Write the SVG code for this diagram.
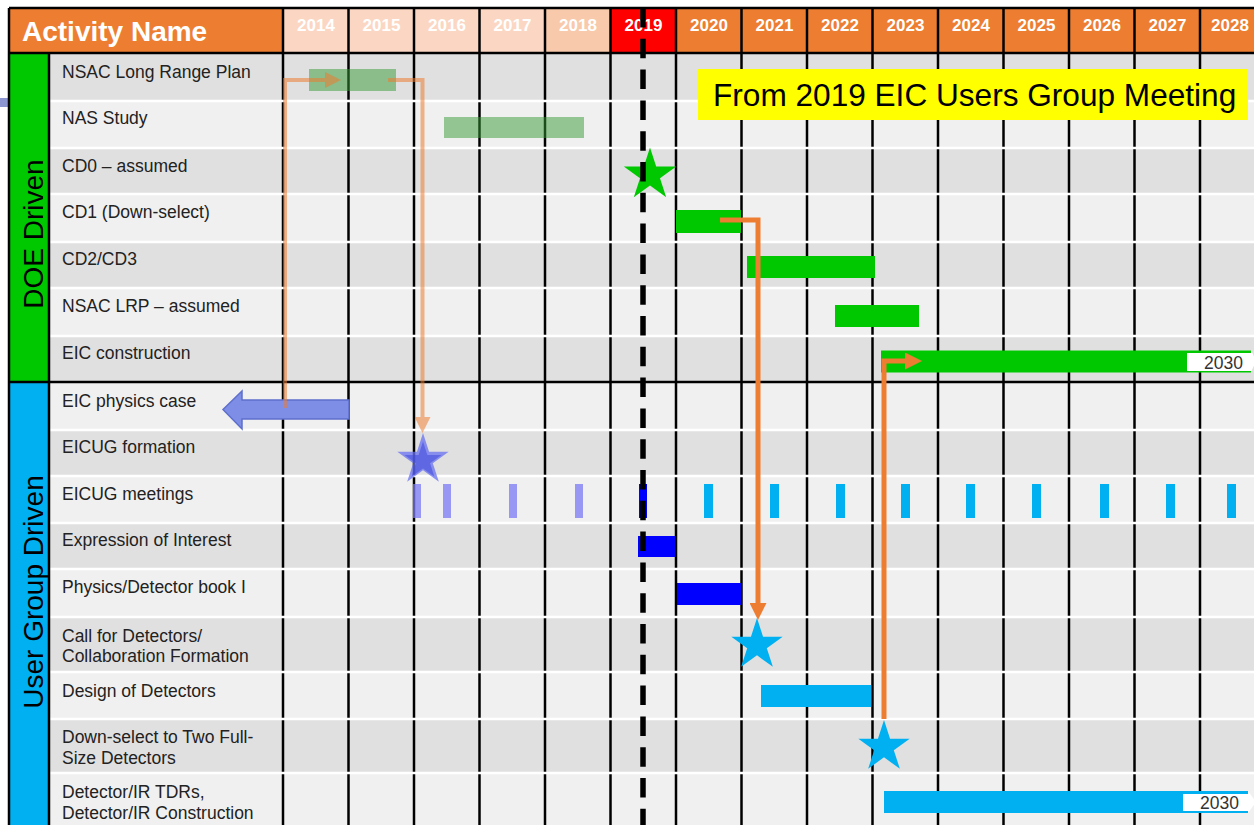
<svg xmlns="http://www.w3.org/2000/svg" width="1254" height="825" viewBox="0 0 1254 825">
<defs>
<style>
.lbl{font-family:"Liberation Sans",Arial,sans-serif;font-size:17.5px;fill:#222}
.yr{font-family:"Liberation Sans",Arial,sans-serif;font-size:17px;font-weight:bold;fill:#fff;text-anchor:middle}
.side{font-family:"Liberation Sans",Arial,sans-serif;font-size:28px;fill:#000;text-anchor:middle}
.dk{fill:#E0E0E0}
.lt{fill:#F0F0F0}
.vl{stroke:#000;stroke-width:2.5}
.sep{stroke:#fff;stroke-width:2.5}
.g{fill:#00C800}
.c{fill:#00B0F0}
.b{fill:#0000FF}
.pale{fill:#7B7BF5;opacity:0.75}
.nb{fill:#339933;opacity:0.5}
.yrtxt{font-family:"Liberation Sans",Arial,sans-serif;font-size:17.5px;fill:#333;text-anchor:end}
</style>
<path id="star" d="M0,-27 L6.06,-8.34 L25.68,-8.34 L9.81,3.19 L15.87,21.84 L0,10.31 L-15.87,21.84 L-9.81,3.19 L-25.68,-8.34 L-6.06,-8.34 Z"/>
<marker id="ahL" viewBox="0 0 16 16" markerWidth="16" markerHeight="16" markerUnits="userSpaceOnUse" refX="0" refY="8" orient="auto"><path d="M0,0 L16,8 L0,16 Z" fill="#ED7D31"/></marker>
<marker id="ahS" viewBox="0 0 17 17" markerWidth="17" markerHeight="17" markerUnits="userSpaceOnUse" refX="0" refY="8.5" orient="auto"><path d="M0,0 L17,8.5 L0,17 Z" fill="#ED7D31"/></marker>
</defs>
<rect x="0" y="0" width="1254" height="825" fill="#fff"/>
<rect x="0" y="98" width="9" height="9" fill="#8C96D0"/>

<g id="grid">
<rect x="49" y="53" width="1205" height="48" class="dk"/>
<rect x="49" y="101" width="1205" height="47" class="lt"/>
<rect x="49" y="148" width="1205" height="46" class="dk"/>
<rect x="49" y="194" width="1205" height="48" class="lt"/>
<rect x="49" y="242" width="1205" height="46" class="dk"/>
<rect x="49" y="288" width="1205" height="48" class="lt"/>
<rect x="49" y="336" width="1205" height="46" class="dk"/>
<rect x="49" y="382" width="1205" height="48" class="lt"/>
<rect x="49" y="430" width="1205" height="46" class="dk"/>
<rect x="49" y="476" width="1205" height="47" class="lt"/>
<rect x="49" y="523" width="1205" height="46" class="dk"/>
<rect x="49" y="569" width="1205" height="48" class="lt"/>
<rect x="49" y="617" width="1205" height="55" class="dk"/>
<rect x="49" y="672" width="1205" height="47" class="lt"/>
<rect x="49" y="719" width="1205" height="54" class="dk"/>
<rect x="49" y="773" width="1205" height="52" class="lt"/>
<g class="vl">
<line x1="283" y1="53" x2="283" y2="825"/>
<line x1="348.5" y1="53" x2="348.5" y2="825"/>
<line x1="414" y1="53" x2="414" y2="825"/>
<line x1="479.5" y1="53" x2="479.5" y2="825"/>
<line x1="545" y1="53" x2="545" y2="825"/>
<line x1="610.5" y1="53" x2="610.5" y2="825"/>
<line x1="676" y1="53" x2="676" y2="825"/>
<line x1="741.5" y1="53" x2="741.5" y2="825"/>
<line x1="807" y1="53" x2="807" y2="825"/>
<line x1="872.5" y1="53" x2="872.5" y2="825"/>
<line x1="938" y1="53" x2="938" y2="825"/>
<line x1="1003.5" y1="53" x2="1003.5" y2="825"/>
<line x1="1069" y1="53" x2="1069" y2="825"/>
<line x1="1134.5" y1="53" x2="1134.5" y2="825"/>
<line x1="1200" y1="53" x2="1200" y2="825"/>
</g>
<g class="sep">
<line x1="49" y1="101" x2="1254" y2="101"/>
<line x1="49" y1="148" x2="1254" y2="148"/>
<line x1="49" y1="194" x2="1254" y2="194"/>
<line x1="49" y1="242" x2="1254" y2="242"/>
<line x1="49" y1="288" x2="1254" y2="288"/>
<line x1="49" y1="336" x2="1254" y2="336"/>
<line x1="49" y1="430" x2="1254" y2="430"/>
<line x1="49" y1="476" x2="1254" y2="476"/>
<line x1="49" y1="523" x2="1254" y2="523"/>
<line x1="49" y1="569" x2="1254" y2="569"/>
<line x1="49" y1="617" x2="1254" y2="617"/>
<line x1="49" y1="672" x2="1254" y2="672"/>
<line x1="49" y1="719" x2="1254" y2="719"/>
<line x1="49" y1="773" x2="1254" y2="773"/>
</g>
</g>

<g id="sidebar-doe">
<rect x="9" y="53" width="40" height="329" class="g"/>
<text class="side" transform="translate(43,234) rotate(-90)">DOE Driven</text>
</g>
<g id="sidebar-user">
<rect x="9" y="382" width="40" height="443" class="c"/>
<text class="side" transform="translate(43,592) rotate(-90)">User Group Driven</text>
</g>
<g id="frame" class="vl">
<line x1="9" y1="53" x2="9" y2="825"/>
<line x1="49" y1="53" x2="49" y2="825"/>
<line x1="9" y1="382" x2="1254" y2="382"/>
</g>

<g id="header">
<rect x="9" y="8" width="274" height="45" fill="#ED7D31"/>
<rect x="283" y="8" width="262" height="45" fill="#FBD7C3"/>
<rect x="545" y="8" width="65.5" height="45" fill="#F8C9AA"/>
<rect x="610.5" y="8" width="65.5" height="45" fill="#FF0000"/>
<rect x="676" y="8" width="578" height="45" fill="#ED7D31"/>
<g class="vl">
<line x1="9" y1="8" x2="1254" y2="8"/>
<line x1="8" y1="53" x2="1254" y2="53"/>
<line x1="9" y1="8" x2="9" y2="53"/>
<line x1="283" y1="8" x2="283" y2="53"/>
<line x1="348.5" y1="8" x2="348.5" y2="53"/>
<line x1="414" y1="8" x2="414" y2="53"/>
<line x1="479.5" y1="8" x2="479.5" y2="53"/>
<line x1="545" y1="8" x2="545" y2="53"/>
<line x1="610.5" y1="8" x2="610.5" y2="53"/>
<line x1="676" y1="8" x2="676" y2="53"/>
<line x1="741.5" y1="8" x2="741.5" y2="53"/>
<line x1="807" y1="8" x2="807" y2="53"/>
<line x1="872.5" y1="8" x2="872.5" y2="53"/>
<line x1="938" y1="8" x2="938" y2="53"/>
<line x1="1003.5" y1="8" x2="1003.5" y2="53"/>
<line x1="1069" y1="8" x2="1069" y2="53"/>
<line x1="1134.5" y1="8" x2="1134.5" y2="53"/>
<line x1="1200" y1="8" x2="1200" y2="53"/>
</g>
<text x="22" y="41" font-family="Liberation Sans, Arial, sans-serif" font-size="28" font-weight="bold" fill="#fff">Activity Name</text>
<text class="yr" x="316" y="31">2014</text>
<text class="yr" x="381.5" y="31">2015</text>
<text class="yr" x="447" y="31">2016</text>
<text class="yr" x="512.5" y="31">2017</text>
<text class="yr" x="578" y="31">2018</text>
<text class="yr" x="643.5" y="31">2019</text>
<text class="yr" x="709" y="31">2020</text>
<text class="yr" x="774.5" y="31">2021</text>
<text class="yr" x="840" y="31">2022</text>
<text class="yr" x="905.5" y="31">2023</text>
<text class="yr" x="971" y="31">2024</text>
<text class="yr" x="1036.5" y="31">2025</text>
<text class="yr" x="1102" y="31">2026</text>
<text class="yr" x="1167.5" y="31">2027</text>
<text class="yr" x="1230" y="31">2028</text>
</g>

<g id="row-nsac-lrp">
<text class="lbl" x="62" y="78">NSAC Long Range Plan</text>
<rect class="nb" x="309" y="69" width="87" height="22"/>
</g>
<g id="row-nas">
<text class="lbl" x="62" y="124">NAS Study</text>
<rect class="nb" x="444" y="117" width="140" height="21"/>
</g>
<g id="row-cd0">
<text class="lbl" x="62" y="172">CD0 – assumed</text>
<use href="#star" transform="translate(650,175) scale(1.02)" fill="#00C800"/>
</g>
<g id="row-cd1">
<text class="lbl" x="62" y="218">CD1 (Down-select)</text>
<rect class="g" x="676" y="210" width="65" height="23"/>
</g>
<g id="row-cd2">
<text class="lbl" x="62" y="265">CD2/CD3</text>
<rect class="g" x="747" y="256" width="128" height="22"/>
</g>
<g id="row-nsac-assumed">
<text class="lbl" x="62" y="312">NSAC LRP – assumed</text>
<rect class="g" x="835" y="305" width="84" height="22"/>
</g>
<g id="row-eic-construction">
<text class="lbl" x="62" y="359">EIC construction</text>
<rect class="g" x="881" y="350.5" width="370" height="22"/>
<rect x="1187" y="353" width="64" height="18" fill="#fff"/>
<polygon points="1251,350 1256,361 1251,372" fill="#fff"/>
<text class="yrtxt" x="1243" y="369">2030</text>
</g>
<g id="row-physics-case">
<text class="lbl" x="62" y="407">EIC physics case</text>
<polygon points="349,400 242,400 242,391 223,409.5 242,429 242,419 349,419" fill="#7E8EE6" stroke="#5E6FCC" stroke-width="1.5"/>
</g>
<g id="row-eicug-formation">
<text class="lbl" x="62" y="453">EICUG formation</text>
<use href="#star" transform="translate(423,460)" fill="#6A72F0" opacity="0.75"/>
<use href="#star" transform="translate(423,461) scale(0.72)" fill="#4048DC" opacity="0.55"/>
</g>
<g id="row-eicug-meetings">
<text class="lbl" x="62" y="500">EICUG meetings</text>
<rect class="pale" x="413" y="484" width="8" height="34"/>
<rect class="pale" x="443" y="484" width="8" height="34"/>
<rect class="pale" x="509" y="484" width="8" height="34"/>
<rect class="pale" x="575" y="484" width="8" height="34"/>
<rect class="b" x="639" y="484" width="8" height="34"/>
<rect class="c" x="704" y="484" width="9" height="34"/>
<rect class="c" x="770" y="484" width="9" height="34"/>
<rect class="c" x="836" y="484" width="9" height="34"/>
<rect class="c" x="901" y="484" width="9" height="34"/>
<rect class="c" x="966" y="484" width="9" height="34"/>
<rect class="c" x="1032" y="484" width="9" height="34"/>
<rect class="c" x="1100" y="484" width="9" height="34"/>
<rect class="c" x="1166" y="484" width="9" height="34"/>
<rect class="c" x="1227" y="484" width="9" height="34"/>
</g>
<g id="row-eoi">
<text class="lbl" x="62" y="546">Expression of Interest</text>
<rect class="b" x="638" y="536" width="37" height="21"/>
</g>
<g id="row-book">
<text class="lbl" x="62" y="593">Physics/Detector book I</text>
<rect class="b" x="677" y="583" width="64" height="22"/>
</g>
<g id="row-call">
<text class="lbl" x="62" y="642">Call for Detectors/</text>
<text class="lbl" x="62" y="662">Collaboration Formation</text>
<use href="#star" transform="translate(757,645)" fill="#00B0F0"/>
</g>
<g id="row-design">
<text class="lbl" x="62" y="697">Design of Detectors</text>
<rect class="c" x="761" y="685" width="110" height="22"/>
</g>
<g id="row-downselect">
<text class="lbl" x="62" y="743">Down-select to Two Full-</text>
<text class="lbl" x="62" y="764">Size Detectors</text>
<use href="#star" transform="translate(884,747)" fill="#00B0F0"/>
</g>
<g id="row-tdr">
<text class="lbl" x="62" y="798">Detector/IR TDRs,</text>
<text class="lbl" x="62" y="819">Detector/IR Construction</text>
<rect class="c" x="884" y="791" width="364" height="22"/>
<rect x="1183" y="794" width="65" height="17" fill="#fff"/>
<polygon points="1248,791 1256,802 1248,813" fill="#fff"/>
<text class="yrtxt" x="1239" y="809">2030</text>
</g>

<g id="connectors" fill="none">
<g opacity="0.55">
<path d="M285,408 V80 H325" stroke="#ED7D31" stroke-width="4" marker-end="url(#ahL)"/>
</g>
<g opacity="0.55">
<path d="M388,80 H422.5 V417" stroke="#ED7D31" stroke-width="4" marker-end="url(#ahL)"/>
</g>
<path d="M720,220 H758 V603" stroke="#ED7D31" stroke-width="5" marker-end="url(#ahS)"/>
<path d="M884,719 V361 H905" stroke="#ED7D31" stroke-width="5" marker-end="url(#ahS)"/>
</g>

<g id="today-line">
<line x1="643" y1="8" x2="643" y2="825" stroke="#000" stroke-width="5.5" stroke-dasharray="19.5 11.3"/>
</g>

<g id="note">
<rect x="698" y="69" width="550" height="51" fill="#FFFF00"/>
<text x="713" y="106" font-family="Liberation Sans, Arial, sans-serif" font-size="31.6" fill="#000">From 2019 EIC Users Group Meeting</text>
</g>
</svg>
